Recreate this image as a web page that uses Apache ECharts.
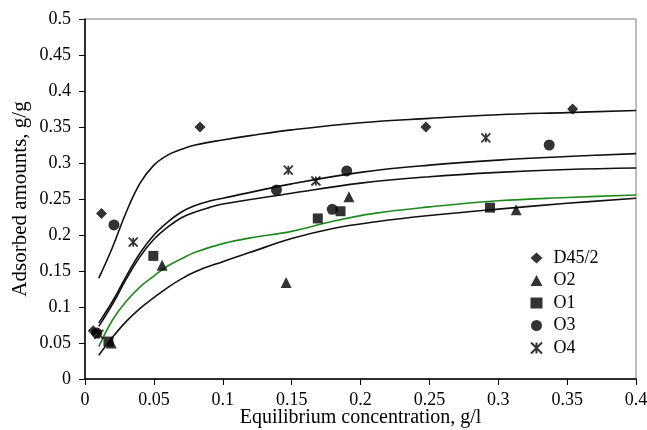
<!DOCTYPE html>
<html>
<head>
<meta charset="utf-8">
<script src="https://cdn.jsdelivr.net/npm/echarts@6/dist/echarts.min.js"></script>
<style>html,body{margin:0;padding:0;background:#fff}#c{width:647px;height:430px}</style>
</head>
<body>
<div id="c"></div>
<script>
// ---- data ----
const xTicks = [0, 0.05, 0.1, 0.15, 0.2, 0.25, 0.3, 0.35, 0.4];
const yTicks = [0, 0.05, 0.1, 0.15, 0.2, 0.25, 0.3, 0.35, 0.4, 0.45, 0.5];

const D45_2 = [[0.006,0.067],[0.012,0.230],[0.0835,0.350],[0.2475,0.350],[0.354,0.375]];
const O2 = [[0.019,0.050],[0.056,0.158],[0.146,0.134],[0.1916,0.253],[0.313,0.235]];
const O1 = [[0.017,0.052],[0.0496,0.171],[0.169,0.223],[0.1855,0.233],[0.294,0.238]];
const O3 = [[0.0085,0.064],[0.021,0.214],[0.139,0.2625],[0.1795,0.2357],[0.190,0.289],[0.337,0.325]];
const O4 = [[0.010,0.062],[0.035,0.190],[0.1476,0.290],[0.1676,0.275],[0.291,0.335]];

const fitD45 = [[0.01,0.140],[0.02,0.183],[0.03,0.232],[0.04,0.272],[0.05,0.297],[0.06,0.311],[0.07,0.319],[0.08,0.325],[0.1,0.332],[0.12,0.338],[0.15,0.346],[0.2,0.356],[0.25,0.362],[0.3,0.367],[0.35,0.370],[0.4,0.373]];
const fitUpperMid = [[0.01,0.078],[0.02,0.108],[0.03,0.143],[0.04,0.175],[0.05,0.200],[0.06,0.218],[0.07,0.232],[0.08,0.241],[0.09,0.247],[0.1,0.251],[0.15,0.271],[0.2,0.287],[0.25,0.297],[0.3,0.304],[0.35,0.309],[0.4,0.313]];
const fitLowerMid = [[0.01,0.073],[0.02,0.104],[0.03,0.139],[0.04,0.170],[0.05,0.194],[0.06,0.211],[0.07,0.224],[0.08,0.232],[0.09,0.238],[0.1,0.243],[0.15,0.258],[0.2,0.272],[0.25,0.281],[0.3,0.287],[0.35,0.291],[0.4,0.293]];
const fitGreen = [[0.01,0.045],[0.02,0.082],[0.03,0.108],[0.04,0.128],[0.05,0.143],[0.06,0.157],[0.07,0.167],[0.08,0.176],[0.1,0.188],[0.12,0.196],[0.15,0.205],[0.18,0.219],[0.21,0.230],[0.25,0.239],[0.3,0.2475],[0.35,0.252],[0.4,0.2556]];
const fitBottom = [[0.01,0.033],[0.02,0.058],[0.03,0.080],[0.04,0.098],[0.05,0.113],[0.06,0.127],[0.07,0.139],[0.08,0.149],[0.1,0.163],[0.12,0.176],[0.15,0.195],[0.18,0.209],[0.21,0.218],[0.25,0.227],[0.3,0.236],[0.35,0.244],[0.4,0.251]];

const font = 'Liberation Serif';
const starPath = 'path://M0,0L10,10M10,0L0,10M5,0L5,10';

function sc(name, data, symbol, size, extra) {
  return Object.assign({
    name, type: 'scatter', data, symbol, symbolSize: size,
    itemStyle: { color: '#000' }, z: 5
  }, extra || {});
}
function fit(data, color) {
  return {
    type: 'line', data, smooth: 0.4, showSymbol: false, symbol: 'none',
    lineStyle: { color, width: 1.6 }, silent: true, z: 3
  };
}
function tickFmt(list) {
  return v => { const t = list.find(k => Math.abs(k - v) < 1e-9); return String(t !== undefined ? t : v); };
}

const chart = echarts.init(document.getElementById('c'));
chart.setOption({
  animation: false,
  backgroundColor: '#fff',
  textStyle: { fontFamily: font },
  grid: { left: 85, right: 11, top: 19, bottom: 51, show: true, borderColor: '#777', borderWidth: 1,
          containLabel: false, outerBoundsMode: 'none' },
  xAxis: {
    type: 'value', min: 0, max: 0.4, interval: 0.05,
    axisLine: { show: true, lineStyle: { color: '#000', width: 1.5 } },
    axisTick: { show: true, inside: false, length: 6, lineStyle: { color: '#000' } },
    axisLabel: { color: '#000', fontSize: 18, fontFamily: font, margin: 12, formatter: tickFmt(xTicks) },
    splitLine: { show: false },
    name: 'Equilibrium concentration, g/l', nameLocation: 'middle', nameGap: 29, nameMoveOverlap: false,
    nameTextStyle: { color: '#000', fontSize: 20, fontFamily: font }
  },
  yAxis: {
    type: 'value', min: 0, max: 0.5, interval: 0.05,
    axisLine: { show: true, lineStyle: { color: '#000', width: 1.5 } },
    axisTick: { show: true, inside: false, length: 6, lineStyle: { color: '#000' } },
    axisLabel: { color: '#000', fontSize: 18, fontFamily: font, margin: 14, formatter: tickFmt(yTicks) },
    splitLine: { show: false },
    name: 'Adsorbed amounts, g/g', nameLocation: 'middle', nameGap: 54, nameMoveOverlap: false,
    nameTextStyle: { color: '#000', fontSize: 21, fontFamily: font }
  },
  legend: {
    orient: 'vertical', left: 525, top: 244, itemWidth: 12, itemHeight: 11, itemGap: 4.5,
    textStyle: { color: '#000', fontSize: 18, fontFamily: font, padding: [0, 0, 0, 6] },
    data: ['D45/2', 'O2', 'O1', 'O3', 'O4']
  },
  series: [
    fit(fitD45, '#111'),
    fit(fitUpperMid, '#111'),
    fit(fitLowerMid, '#111'),
    fit(fitGreen, '#1e8a1e'),
    fit(fitBottom, '#111'),
    sc('D45/2', D45_2, 'diamond', 11),
    sc('O2', O2, 'triangle', 11),
    sc('O1', O1, 'rect', 10),
    sc('O3', O3, 'circle', 11),
    sc('O4', O4, starPath, 9, { itemStyle: { color: 'rgba(0,0,0,0)', borderColor: '#000', borderWidth: 1.8 } })
  ]
});
</script>
</body>
</html>
